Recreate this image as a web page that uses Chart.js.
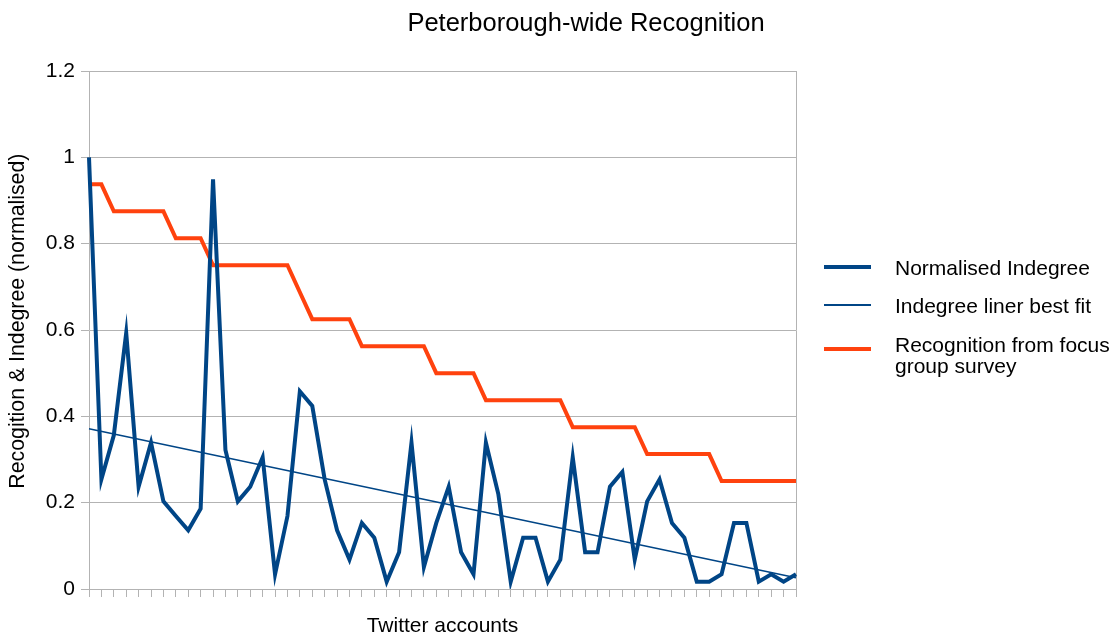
<!DOCTYPE html>
<html>
<head>
<meta charset="utf-8">
<script src="https://cdn.jsdelivr.net/npm/chart.js@4/dist/chart.umd.min.js"></script>
<style>
  html, body { margin: 0; padding: 0; background: #fff; overflow: hidden; }
  #wrap { position: relative; width: 1116px; height: 635px; overflow: hidden; font-family: "Liberation Sans", Arial, sans-serif; color: #000; }
  #chart { position: absolute; left: 0; top: 0; }
  #title { position: absolute; left: 0; width: 1172px; top: 7px; line-height: 30px; font-size: 25.5px; text-align: center; white-space: nowrap; }
  .lg { position: absolute; left: 824px; font-size: 21px; white-space: nowrap; }
  .lg .sw { position: absolute; left: 0; width: 47px; }
  .lg .tx { position: absolute; left: 71px; line-height: 21px; }
</style>
</head>
<body>
<div id="wrap">
  <canvas id="chart" width="1116" height="635"></canvas>
  <div id="title">Peterborough-wide Recognition</div>
  <div id="legend"></div>
</div>
<script>
// ---- data ----
const accounts = ["1","2","3","4","5","6","7","8","9","10","11","12","13","14","15","16","17","18","19","20",
  "21","22","23","24","25","26","27","28","29","30","31","32","33","34","35","36","37","38","39","40",
  "41","42","43","44","45","46","47","48","49","50","51","52","53","54","55","56","57","58"];

const normalisedIndegree = [1, 0.254, 0.356, 0.593, 0.237, 0.339, 0.203, 0.169, 0.136, 0.186,
  0.949, 0.322, 0.203, 0.237, 0.305, 0.034, 0.169, 0.458, 0.424, 0.254,
  0.136, 0.068, 0.153, 0.119, 0.017, 0.085, 0.339, 0.051, 0.153, 0.237,
  0.085, 0.034, 0.339, 0.220, 0.017, 0.119, 0.119, 0.017, 0.068, 0.305,
  0.085, 0.085, 0.237, 0.271, 0.068, 0.203, 0.254, 0.153, 0.119, 0.017,
  0.017, 0.034, 0.153, 0.153, 0.017, 0.034, 0.017, 0.034];

const recognition = [0.9375, 0.9375, 0.875, 0.875, 0.875, 0.875, 0.875, 0.8125, 0.8125, 0.8125,
  0.75, 0.75, 0.75, 0.75, 0.75, 0.75, 0.75, 0.6875, 0.625, 0.625,
  0.625, 0.625, 0.5625, 0.5625, 0.5625, 0.5625, 0.5625, 0.5625, 0.5, 0.5,
  0.5, 0.5, 0.4375, 0.4375, 0.4375, 0.4375, 0.4375, 0.4375, 0.4375, 0.375,
  0.375, 0.375, 0.375, 0.375, 0.375, 0.3125, 0.3125, 0.3125, 0.3125, 0.3125,
  0.3125, 0.25, 0.25, 0.25, 0.25, 0.25, 0.25, 0.25];

// linear best fit: only the two end values, joined by the library (spanGaps)
const fitStart = 0.371;
const fitEnd = 0.026;

const yTicks = [0, 0.2, 0.4, 0.6, 0.8, 1, 1.2];

const seriesNames = ["Normalised Indegree", "Indegree liner best fit", "Recognition from focus group survey"];
const seriesColors = ["#004586", "#004586", "#ff420e"];
const seriesWidths = [4, 1.5, 4];

// ---- build ----
const fitData = accounts.map((_, i) => i === 0 ? fitStart : (i === accounts.length - 1 ? fitEnd : null));
const FONT = '"Liberation Sans", Arial, sans-serif';
const GRID = '#b3b3b3';

new Chart(document.getElementById('chart'), {
  type: 'line',
  data: {
    labels: accounts,
    datasets: [
      { label: seriesNames[0], data: normalisedIndegree, borderColor: seriesColors[0], borderWidth: seriesWidths[0], pointRadius: 0, tension: 0, fill: false },
      { label: seriesNames[1], data: fitData, borderColor: seriesColors[1], borderWidth: seriesWidths[1], pointRadius: 0, tension: 0, fill: false, spanGaps: true },
      { label: seriesNames[2], data: recognition, borderColor: seriesColors[2], borderWidth: seriesWidths[2], pointRadius: 0, tension: 0, fill: false }
    ]
  },
  options: {
    responsive: false,
    animation: false,
    events: [],
    layout: { padding: { left: 0, right: 320, top: 71, bottom: 0 } },
    plugins: { legend: { display: false }, title: { display: false }, tooltip: { enabled: false } },
    scales: {
      x: {
        offset: false,
        grid: { drawOnChartArea: false, drawTicks: true, tickLength: 8, color: GRID },
        border: { display: true, color: GRID },
        ticks: { display: false, autoSkip: false },
        title: { display: true, text: 'Twitter accounts', color: '#000', font: { family: FONT, size: 21, lineHeight: 0.8 }, padding: 0 },
        afterFit: s => { s.height = 46; }
      },
      y: {
        min: 0, max: 1.2,
        afterBuildTicks: s => { s.ticks = yTicks.map(v => ({ value: v })); },
        grid: { color: GRID, tickLength: 8, drawTicks: true },
        border: { display: true, color: GRID },
        ticks: { color: '#000', padding: 6, font: { family: FONT, size: 21 }, callback: v => String(+(+v).toFixed(1)) },
        title: { display: true, text: '   Recogition & Indegree (normalised)', color: '#000', font: { family: FONT, size: 21.3, lineHeight: 0.95 }, padding: { top: 8, bottom: 0 } },
        afterFit: s => { s.width = 89; }
      },
      y2: {
        position: 'right', min: 0, max: 1.2,
        grid: { drawOnChartArea: false, drawTicks: false },
        border: { display: true, color: GRID },
        ticks: { display: false },
        afterFit: s => { s.width = 0; }
      }
    }
  }
});

// ---- legend (HTML, real text) ----
const legendRows = [
  { top: 267, lines: [seriesNames[0]] },
  { top: 305, lines: [seriesNames[1]] },
  { top: 349, lines: ["Recognition from focus", "group survey"], textTop: 334 }
];
const lg = document.getElementById('legend');
legendRows.forEach((r, i) => {
  const row = document.createElement('div');
  row.className = 'lg';
  row.style.top = '0px';
  const sw = document.createElement('div');
  sw.className = 'sw';
  sw.style.height = seriesWidths[i] + 'px';
  sw.style.top = (r.top - seriesWidths[i] / 2) + 'px';
  sw.style.background = seriesColors[i];
  row.appendChild(sw);
  const tx = document.createElement('div');
  tx.className = 'tx';
  const tt = r.textTop !== undefined ? r.textTop : r.top - 10.5;
  tx.style.top = tt + 'px';
  tx.innerHTML = r.lines.join('<br>');
  row.appendChild(tx);
  lg.appendChild(row);
});
</script>
</body>
</html>
